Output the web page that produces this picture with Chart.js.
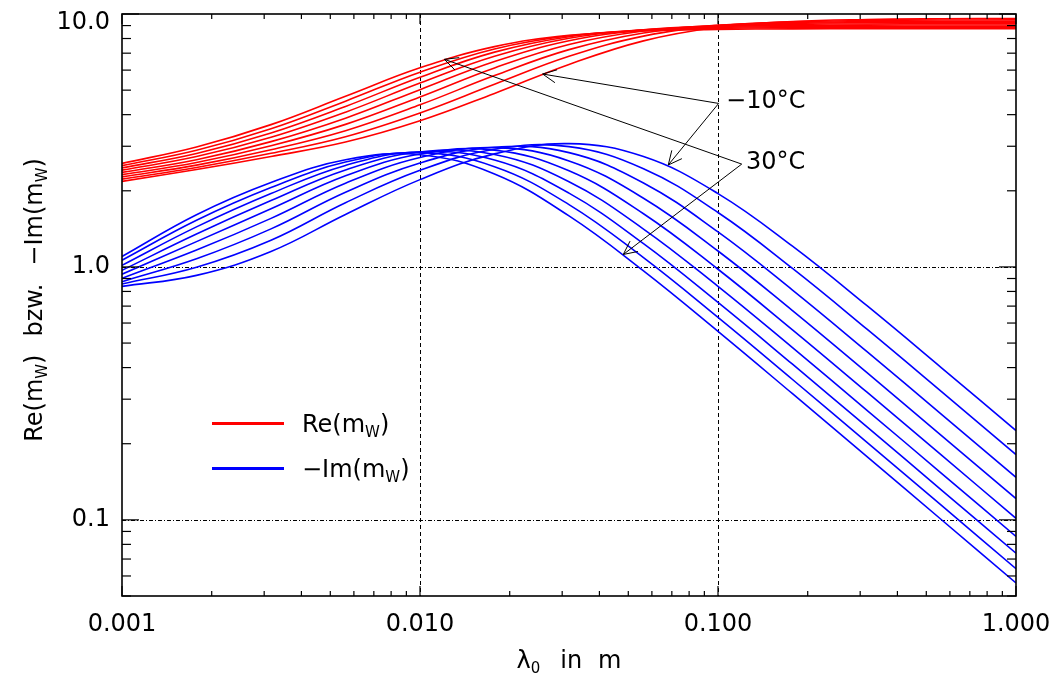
<!DOCTYPE html>
<html><head><meta charset="utf-8">
<script src="https://cdn.jsdelivr.net/npm/chart.js@4"></script>
<style>html,body{margin:0;padding:0;background:#fff}#wrap{width:1058px;height:675px}</style>
</head><body><div id="wrap"><canvas id="c" width="1058" height="675"></canvas></div>
<script>
// wavelength in m (quarter-decade grid)
const lambda = [0.001, 0.0017783, 0.0031623, 0.0056234, 0.01, 0.017783, 0.031623, 0.056234, 0.1, 0.17783, 0.31623, 0.56234, 1.0];
const temps = ['-10°C','-5°C','0°C','5°C','10°C','15°C','20°C','25°C','30°C'];

// Re(m_w)
const reTm10 = [2.178, 2.427, 2.734, 3.116, 3.782, 4.851, 6.317, 7.831, 8.862, 9.338, 9.513, 9.571, 9.590];
const reTm5  = [2.223, 2.474, 2.814, 3.274, 4.065, 5.276, 6.803, 8.174, 8.976, 9.310, 9.427, 9.465, 9.478];
const reT0   = [2.269, 2.526, 2.907, 3.458, 4.376, 5.708, 7.231, 8.414, 9.020, 9.254, 9.333, 9.359, 9.367];
const reT5   = [2.316, 2.587, 3.013, 3.661, 4.700, 6.120, 7.577, 8.562, 9.015, 9.181, 9.236, 9.253, 9.259];
const reT10  = [2.364, 2.654, 3.129, 3.874, 5.023, 6.490, 7.835, 8.638, 8.978, 9.097, 9.136, 9.149, 9.152];
const reT15  = [2.413, 2.731, 3.255, 4.092, 5.333, 6.807, 8.015, 8.663, 8.920, 9.008, 9.037, 9.046, 9.049];
const reT20  = [2.463, 2.810, 3.385, 4.311, 5.624, 7.067, 8.132, 8.654, 8.851, 8.917, 8.939, 8.945, 8.947];
const reT25  = [2.514, 2.893, 3.519, 4.524, 5.888, 7.273, 8.199, 8.620, 8.774, 8.825, 8.841, 8.847, 8.848];
const reT30  = [2.566, 2.980, 3.653, 4.729, 6.124, 7.430, 8.229, 8.571, 8.693, 8.733, 8.746, 8.750, 8.751];

// -Im(m_w)
const imTm10 = [0.838, 0.926, 1.151, 1.612, 2.214, 2.799, 3.072, 2.731, 1.950, 1.208, 0.7024, 0.3993, 0.2253];
const imTm5  = [0.856, 0.997, 1.275, 1.794, 2.409, 2.918, 2.989, 2.445, 1.641, 0.9866, 0.5675, 0.3215, 0.1812];
const imT0   = [0.874, 1.077, 1.414, 1.975, 2.577, 2.973, 2.831, 2.148, 1.375, 0.8098, 0.4625, 0.2614, 0.1472];
const imT5   = [0.901, 1.166, 1.556, 2.143, 2.708, 2.963, 2.625, 1.869, 1.156, 0.6716, 0.3818, 0.2154, 0.1213];
const imT10  = [0.936, 1.259, 1.697, 2.292, 2.797, 2.896, 2.398, 1.623, 0.9791, 0.5639, 0.3196, 0.1802, 0.1014];
const imT15  = [0.970, 1.349, 1.829, 2.418, 2.845, 2.785, 2.171, 1.412, 0.8376, 0.4794, 0.2712, 0.1528, 0.0860];
const imT20  = [1.015, 1.440, 1.951, 2.520, 2.854, 2.646, 1.958, 1.236, 0.7237, 0.4125, 0.2330, 0.1312, 0.0738];
const imT25  = [1.063, 1.529, 2.060, 2.598, 2.830, 2.490, 1.764, 1.088, 0.6316, 0.3589, 0.2025, 0.1140, 0.0641];
const imT30  = [1.100, 1.608, 2.156, 2.653, 2.778, 2.330, 1.591, 0.9643, 0.5561, 0.3153, 0.1778, 0.1001, 0.0563];

// axis ticks
const xTicks = [0.001, 0.01, 0.1, 1];
const xTickLabels = ['0.001', '0.010', '0.100', '1.000'];
const yTicks = [0.1, 1, 10];
const yTickLabels = ['0.1', '1.0', '10.0'];
const xGridAt = [0.01, 0.1];
const yGridAt = [0.1, 1];

const reSeries = [reTm10, reTm5, reT0, reT5, reT10, reT15, reT20, reT25, reT30];
const imSeries = [imTm10, imTm5, imT0, imT5, imT10, imT15, imT20, imT25, imT30];

const FONT = '"DejaVu Sans", sans-serif';
const datasets = [];
reSeries.forEach((arr, i) => datasets.push({
  label: 'Re ' + temps[i], data: lambda.map((x, j) => ({x: x, y: arr[j]})),
  borderColor: '#ff0000', borderWidth: 1.6, pointRadius: 0, tension: 0.4, fill: false
}));
imSeries.forEach((arr, i) => datasets.push({
  label: '-Im ' + temps[i], data: lambda.map((x, j) => ({x: x, y: arr[j]})),
  borderColor: '#0000ff', borderWidth: 1.6, pointRadius: 0, tension: 0.4, fill: false
}));

function labelFor(v, ticks, labels) {
  for (let i = 0; i < ticks.length; i++) if (Math.abs(v / ticks[i] - 1) < 1e-6) return labels[i];
  return '';
}

function drawRich(ctx, parts, x, y, size, align) {
  let w = 0;
  parts.forEach(p => { ctx.font = (p.sub ? Math.round(size * 0.62) : size) + 'px ' + FONT; p.w = ctx.measureText(p.t).width; w += p.w + (p.gap || 0); });
  let cx = align === 'center' ? x - w / 2 : x;
  parts.forEach(p => {
    cx += (p.gap || 0);
    ctx.font = (p.sub ? Math.round(size * 0.62) : size) + 'px ' + FONT;
    ctx.fillText(p.t, cx, y + (p.sub ? size * 0.22 : 0));
    cx += p.w;
  });
}

// annotations in data coordinates
const notes = [
  {text: '\u221210°C', at: [0.1064, 4.50], from: [0.1005, 4.43], tips: [[0.0258, 5.79], [0.0681, 2.53]]},
  {text: '30°C', at: [0.1242, 2.57], from: [0.1201, 2.55], tips: [[0.01207, 6.62], [0.0481, 1.12]]}
];

const decor = {
  id: 'decor',
  beforeDatasetsDraw(chart) {
    const {ctx, chartArea: a, scales: {x, y}} = chart;
    ctx.save();
    ctx.strokeStyle = '#000'; ctx.lineWidth = 1;
    ctx.setLineDash([4, 3]);
    xGridAt.forEach(v => { const px = Math.round(x.getPixelForValue(v)) + 0.5; ctx.beginPath(); ctx.moveTo(px, a.top); ctx.lineTo(px, a.bottom); ctx.stroke(); });
    ctx.setLineDash([4, 2, 1, 2]);
    yGridAt.forEach(v => { const py = Math.round(y.getPixelForValue(v)) + 0.5; ctx.beginPath(); ctx.moveTo(a.left, py); ctx.lineTo(a.right, py); ctx.stroke(); });
    ctx.restore();
  },
  afterDatasetsDraw(chart) {
    const {ctx, chartArea: a, scales: {x, y}} = chart;
    ctx.save();
    ctx.setLineDash([]);
    ctx.strokeStyle = '#000';
    // ticks (inward) on all sides
    ctx.lineWidth = 1.2;
    const seg = (x1, y1, x2, y2) => { ctx.beginPath(); ctx.moveTo(x1, y1); ctx.lineTo(x2, y2); ctx.stroke(); };
    for (let d = 0.001; d < 1.5; d *= 10) {
      for (let m = 1; m <= 9; m++) {
        const v = d * m; if (v > 1.0001) break;
        const px = x.getPixelForValue(v); const L = m === 1 ? 10 : 5;
        seg(px, a.bottom, px, a.bottom - L); seg(px, a.top, px, a.top + L);
      }
    }
    for (let d = 0.01; d < 15; d *= 10) {
      for (let m = 1; m <= 9; m++) {
        const v = d * m; if (v < 0.0499 || v > 10.001) continue;
        const py = y.getPixelForValue(v); const L = m === 1 ? 17 : 9;
        seg(a.left, py, a.left + L, py); seg(a.right, py, a.right - L, py);
      }
    }
    // frame
    ctx.lineWidth = 1.6;
    ctx.strokeRect(a.left, a.top, a.right - a.left, a.bottom - a.top);

    // annotations
    ctx.lineWidth = 1;
    ctx.fillStyle = '#000';
    notes.forEach(n => {
      const fx = x.getPixelForValue(n.from[0]), fy = y.getPixelForValue(n.from[1]);
      n.tips.forEach(t => {
        const tx = x.getPixelForValue(t[0]), ty = y.getPixelForValue(t[1]);
        seg(fx, fy, tx, ty);
        const ang = Math.atan2(fy - ty, fx - tx), L = 15, h = 0.45;
        seg(tx, ty, tx + L * Math.cos(ang + h), ty + L * Math.sin(ang + h));
        seg(tx, ty, tx + L * Math.cos(ang - h), ty + L * Math.sin(ang - h));
      });
      ctx.font = '24px ' + FONT; ctx.textBaseline = 'middle'; ctx.textAlign = 'left';
      ctx.fillText(n.text, x.getPixelForValue(n.at[0]), y.getPixelForValue(n.at[1]));
    });

    // legend
    ctx.lineWidth = 3;
    ctx.strokeStyle = '#ff0000'; seg(212, 423.5, 284, 423.5);
    ctx.strokeStyle = '#0000ff'; seg(212, 468.5, 284, 468.5);
    ctx.textBaseline = 'alphabetic'; ctx.textAlign = 'left';
    drawRich(ctx, [{t: 'Re(m'}, {t: 'W', sub: true}, {t: ')'}], 302, 432, 24, 'left');
    drawRich(ctx, [{t: '\u2212Im(m'}, {t: 'W', sub: true}, {t: ')'}], 302, 477, 24, 'left');

    // axis titles
    drawRich(ctx, [{t: '\u03bb'}, {t: '0', sub: true}, {t: 'in', gap: 20}, {t: 'm', gap: 16}], (a.left + a.right) / 2, 668, 24, 'center');
    ctx.save();
    ctx.translate(42, 300);
    ctx.rotate(-Math.PI / 2);
    drawRich(ctx, [{t: 'Re(m'}, {t: 'W', sub: true}, {t: ')'}, {t: 'bzw.', gap: 18}, {t: '\u2212Im(m', gap: 18}, {t: 'W', sub: true}, {t: ')'}], 0, 0, 24, 'center');
    ctx.restore();
    ctx.restore();
  }
};

new Chart(document.getElementById('c'), {
  type: 'line',
  data: {datasets: datasets},
  options: {
    responsive: false, animation: false, devicePixelRatio: 1,
    layout: {padding: {left: 0, right: 42, top: 14, bottom: 0}},
    plugins: {legend: {display: false}, tooltip: {enabled: false}},
    scales: {
      x: {
        type: 'logarithmic', min: 0.001, max: 1,
        afterBuildTicks: s => { s.ticks = xTicks.map(v => ({value: v})); },
        afterFit: s => { s.height = 79; s.paddingLeft = 0; s.paddingRight = 0; },
        ticks: {autoSkip: false, maxRotation: 0, padding: 14, color: '#000', font: {family: FONT, size: 24},
          callback: v => labelFor(v, xTicks, xTickLabels)},
        grid: {display: false, drawTicks: false}, border: {display: false}
      },
      y: {
        type: 'logarithmic', min: 0.05, max: 10,
        afterBuildTicks: s => { s.ticks = yTicks.map(v => ({value: v})); },
        afterFit: s => { s.width = 122; s.paddingTop = 0; s.paddingBottom = 0; },
        ticks: {autoSkip: false, padding: 12, color: '#000',
          font: c => (c.tick && Math.abs(c.tick.value - 10) < 1e-6) ? {family: FONT, size: 24, lineHeight: 0.75} : {family: FONT, size: 24},
          callback: v => { const s = labelFor(v, yTicks, yTickLabels); return Math.abs(v - 10) < 1e-6 ? ['', s] : s; }},
        grid: {display: false, drawTicks: false}, border: {display: false}
      }
    }
  },
  plugins: [decor]
});
</script></body></html>
